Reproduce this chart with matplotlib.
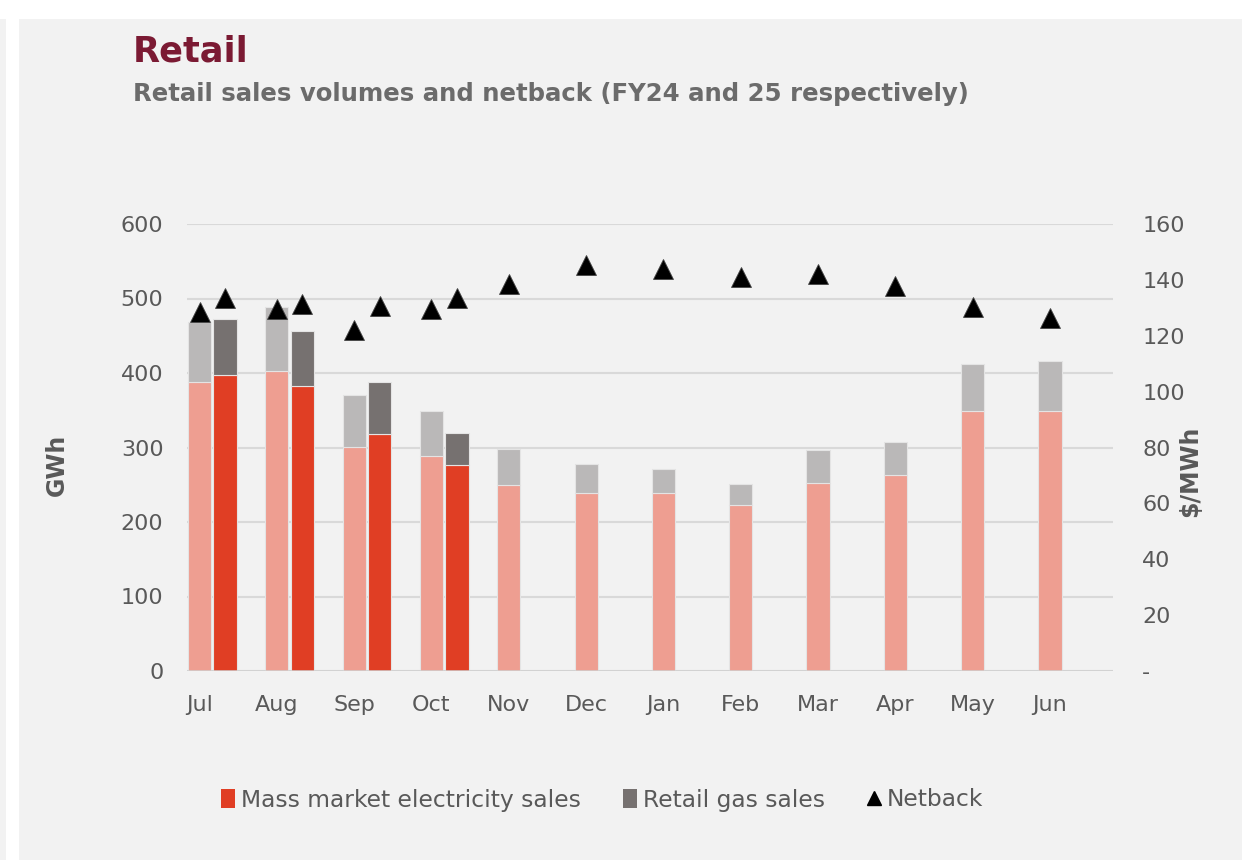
import matplotlib.pyplot as plt
import numpy as np
from matplotlib.lines import Line2D
from matplotlib.patches import Rectangle, Patch

months = ['Jul', 'Aug', 'Sep', 'Oct', 'Nov', 'Dec',
          'Jan', 'Feb', 'Mar', 'Apr', 'May', 'Jun']

# GWh, FY24 (all months) and FY25 (Jul-Oct)
elec_fy24 = [388, 403, 301, 288, 250, 239, 239, 223, 253, 263, 349, 349]
gas_fy24 = [81, 86, 69, 61, 48, 39, 32, 28, 44, 45, 63, 67]
elec_fy25 = [397, 383, 318, 276]
gas_fy25 = [75, 73, 70, 43]

# $/MWh
netback_fy24 = [128.5, 129.6, 121.9, 129.5, 138.5, 145.2,
                144.0, 141.0, 142.1, 137.9, 130.4, 126.2]
netback_fy25 = [133.4, 131.4, 130.6, 133.4]

W, H = 1242, 860
plt.rcParams['font.family'] = ['DejaVu Sans']

fig = plt.figure(figsize=(W / 100, H / 100), dpi=100)
fig.patch.set_facecolor('white')
bg = '#f2f2f2'
fig.patches.append(Rectangle((19 / W, 0), 1, 1 - 19 / H, transform=fig.transFigure,
                             facecolor=bg, edgecolor='none', zorder=-10))
fig.patches.append(Rectangle((0, 0), 6 / W, 1 - 19 / H, transform=fig.transFigure,
                             facecolor=bg, edgecolor='none', zorder=-10))

ax = fig.add_axes([187 / W, 1 - 671 / H, (1113 - 187) / W, (671 - 224) / H])
ax.set_facecolor(bg)
ax2 = ax.twinx()

x = np.arange(len(months))
x25 = np.arange(len(elec_fy25)) + 0.33
bw = 0.30

c_pink = '#ee9e91'
c_lgray = '#bab8b8'
c_red = '#e03e24'
c_dgray = '#767170'
edge = '#e4e4e4'

ax.bar(x, elec_fy24, bw, color=c_pink, edgecolor=edge, linewidth=0.8, zorder=3)
ax.bar(x, gas_fy24, bw, bottom=elec_fy24, color=c_lgray, edgecolor=edge,
       linewidth=0.8, zorder=3)
ax.bar(x25, elec_fy25, bw, color=c_red, edgecolor=edge, linewidth=0.8, zorder=3)
ax.bar(x25, gas_fy25, bw, bottom=elec_fy25, color=c_dgray, edgecolor=edge,
       linewidth=0.8, zorder=3)

ax2.plot(x, netback_fy24, ls='none', marker='^', ms=14, color='black',
         mec='#444444', mew=0.6, zorder=5)
ax2.plot(x25, netback_fy25, ls='none', marker='^', ms=14, color='black',
         mec='#444444', mew=0.6, zorder=5)

ax.set_xlim(-0.162, 11.815)
ax.set_ylim(0, 600)
ax2.set_ylim(0, 160)
ax.set_yticks(np.arange(0, 601, 100))
ax2.set_yticks(np.arange(0, 161, 20))
ax2.set_yticklabels(['-'] + [str(v) for v in range(20, 161, 20)])
ax.set_xticks(x)
ax.set_xticklabels(months)

ax.grid(axis='y', color='#d9d9d9', linewidth=1.5, zorder=0)
ax.set_axisbelow(True)
for a in (ax, ax2):
    for s in a.spines.values():
        s.set_visible(False)
ax.axhline(0, color='#d0d0d0', linewidth=1.8, zorder=4)

tc = '#595959'
ax.tick_params(axis='y', length=0, pad=17, labelsize=16, labelcolor=tc)
ax.tick_params(axis='x', length=0, pad=17, labelsize=16, labelcolor=tc)
ax2.tick_params(axis='y', length=0, pad=21, labelsize=16, labelcolor=tc)
for t in ax2.get_yticklabels():
    t.set_horizontalalignment('left')

fig.text(57 / W, 1 - 465 / H, 'GWh', rotation=90, ha='center', va='center',
         fontsize=17, fontweight='bold', color='#595959')
fig.text(1190 / W, 1 - 471 / H, '$/MWh', rotation=90, ha='center', va='center',
         fontsize=17, fontweight='bold', color='#595959')

fig.text(133 / W, 1 - 62 / H, 'Retail', ha='left', va='baseline',
         fontsize=25.3, fontweight='bold', color='#7b1a33')
fig.text(133 / W, 1 - 101 / H,
         'Retail sales volumes and netback (FY24 and 25 respectively)',
         ha='left', va='baseline', fontsize=17.6, fontweight='bold',
         color='#6b6b6b')

handles = [Patch(facecolor=c_red, edgecolor='none'),
           Patch(facecolor=c_dgray, edgecolor='none'),
           Line2D([], [], ls='none', marker='^', ms=10, color='black')]
labels = ['Mass market electricity sales', 'Retail gas sales', 'Netback']
fig.legend(handles, labels, loc='center', bbox_to_anchor=(602 / W, 1 - 800 / H),
           ncol=3, frameon=False, fontsize=16.8, labelcolor=tc,
           handlelength=0.6, handleheight=0.9, handletextpad=0.25,
           columnspacing=1.8)

fig.savefig('out.png', dpi=100, facecolor=fig.get_facecolor())
